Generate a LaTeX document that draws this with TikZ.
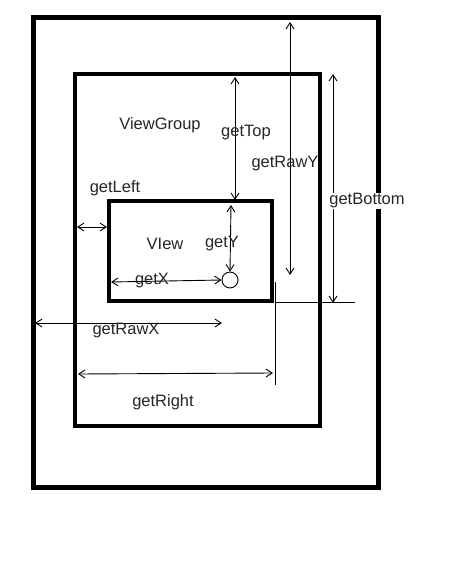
\documentclass[tikz,border=0pt]{standalone}
\usepackage{fontspec}
\setmainfont{Liberation Sans}
\usetikzlibrary{arrows.meta}

\begin{document}
\begin{tikzpicture}[x=1pt,y=-1pt,
  box/.style={draw=black,line width=4.5pt},
  lbl/.style={font=\fontsize{16.5}{18}\selectfont,text=black!85,inner sep=0pt,yshift=-2pt},
  a/.style={{Straight Barb[length=2.2mm,width=2.8mm]}-{Straight Barb[length=2.2mm,width=2.8mm]},line width=0.9pt},
  tick/.style={line width=0.9pt}]
  \useasboundingbox[fill=white] (0,0) rectangle (464,583);
  % frames
  \draw[box,line width=5pt] (33,18) rectangle (378,487);
  \draw[box] (75,74) rectangle (320,426);
  \draw[box] (109,201) rectangle (272,301);
  \node[draw,circle,line width=0.9pt,minimum size=16pt,inner sep=0pt] (pt) at (230,280) {};

  % anchor points
  \coordinate (scrTop) at (290,22);
  \coordinate (rawYEnd) at (290,275);
  \coordinate (grpTop) at (235,77);
  \coordinate (viewTop) at (235,200);
  \coordinate (bTop) at (333,74);
  \coordinate (bEnd) at (333,303);
  \coordinate (yTop) at (231,205);
  \coordinate (xLeft) at (111,282);
  \coordinate (lGrp) at (77,227);
  \coordinate (lView) at (107,227);
  \coordinate (rawXL) at (35,323);
  \coordinate (rawXR) at (222,323);
  \coordinate (rGrpL) at (78,374);
  \coordinate (rGrpR) at (273,373);
  \coordinate (hL) at (275,302);
  \coordinate (hR) at (355,302);
  \coordinate (vT) at (275,282);
  \coordinate (vB) at (275,385);

  % helper lines
  \draw[tick] (hL) -- (hR);
  \draw[tick] (vT) -- (vB);

  % measures
  \draw[a] (scrTop) -- (rawYEnd);
  \draw[a] (grpTop) -- (viewTop);
  \draw[a] (bTop) -- (bEnd);
  \draw[a] (yTop) -- (pt.north);
  \draw[a] (xLeft) -- (pt.west);
  \draw[a] (lGrp) -- (lView);
  \draw[a] (rawXL) -- (rawXR);
  \draw[a] (rGrpL) -- (rGrpR);

  % labels
  \node[lbl] (vg) at (160,123) {ViewGroup};
  \node[lbl] (top) at (246,131) {getTop};
  \node[lbl] (rawy) at (285,162) {getRawY};
  \node[lbl,fill=white,inner sep=0.5pt] (bot) at (367,199) {getBottom};
  \node[lbl] (left) at (115,186) {getLeft};
  \node[lbl] (view) at (165,242) {VIew};
  \node[lbl] (gy) at (222,242) {getY};
  \node[lbl] (gx) at (152,279) {getX};
  \node[lbl] (rawx) at (126,329) {getRawX};
  \node[lbl] (right) at (163,400) {getRight};
\end{tikzpicture}
\end{document}
